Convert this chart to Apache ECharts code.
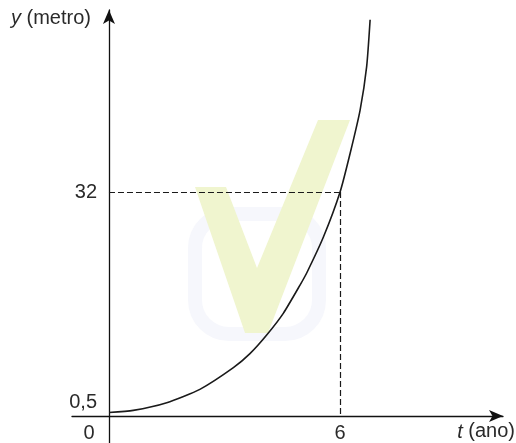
<!DOCTYPE html>
<html>
<head>
<meta charset="utf-8">
<script src="https://cdn.jsdelivr.net/npm/echarts@6/dist/echarts.min.js"></script>
<style>html,body{margin:0;padding:0;background:#fff}#c{width:516px;height:443px}</style>
</head>
<body>
<div id="c"></div>
<script>
// data
var tValues = [0, 0.63, 1.5, 2.36, 3.23, 3.66, 4.1, 4.53, 4.96, 5.14, 5.57, 6, 6.26, 6.52, 6.69, 6.78];
var yValues = [0.5, 0.8, 1.9, 3.8, 6.9, 8.9, 11.6, 14.7, 18.7, 20.5, 25.6, 32, 37.5, 43.7, 49.9, 56.6];
var xTickValues = [0, 6];
var yTickValues = [0.5, 32];
var markT = 6;
var markY = 32;

var curve = tValues.map(function (t, i) { return [t, yValues[i]]; });
var FONT = 'Liberation Sans, Arial, sans-serif';
var TXT = '#2a2a2a';
var FS = 20;

var chart = echarts.init(document.getElementById('c'), null, {renderer: 'canvas'});
chart.setOption({
  animation: false,
  backgroundColor: '#fff',
  grid: {left: 72, right: 13, top: 10, bottom: 0, containLabel: false, outerBoundsMode: 'none'},
  graphic: [
    {type: 'rect', shape: {x: 195, y: 214, width: 124, height: 120, r: 34}, silent: true, z: -10,
     style: {fill: 'none', stroke: '#f6f7fc', lineWidth: 14}},
    {type: 'polygon', silent: true, z: -9,
     shape: {points: [[195,187],[226,187],[257,268],[318,120],[350,120],[268,333],[245,333]]},
     style: {fill: '#f0f5cf'}}
  ],
  xAxis: {
    type: 'value', min: -0.96, max: 10.23,
    name: '{i|t} (ano)', nameLocation: 'end', nameGap: 12,
    nameTextStyle: {fontFamily: FONT, fontSize: FS, color: TXT, align: 'right', verticalAlign: 'top', padding: [6,0,0,0],
      rich: {i: {fontFamily: FONT, fontSize: FS, color: TXT, fontStyle: 'italic'}}},
    axisLine: {onZero: true, symbol: ['none', 'arrow'], symbolSize: [9, 14], lineStyle: {color: '#111', width: 1.3}},
    axisTick: {show: false},
    splitLine: {show: false},
    axisLabel: {
      customValues: xTickValues, margin: -20,
      fontFamily: FONT, fontSize: FS, color: TXT,
      formatter: function (v) { return v === 0 ? '{o|0}' : String(v); },
      rich: {o: {fontFamily: FONT, fontSize: FS, color: TXT, padding: [0, 40, 0, 0]}}
    }
  },
  yAxis: {
    type: 'value', min: -3.86, max: 58,
    name: '{i|y} (metro)', nameLocation: 'end', nameGap: -8,
    nameTextStyle: {fontFamily: FONT, fontSize: FS, color: TXT, align: 'right', verticalAlign: 'middle', padding: [0,18,0,0],
      rich: {i: {fontFamily: FONT, fontSize: FS, color: TXT, fontStyle: 'italic'}}},
    axisLine: {onZero: true, symbol: ['none', 'arrow'], symbolSize: [9, 14], lineStyle: {color: '#111', width: 1.3}},
    axisTick: {show: false},
    splitLine: {show: false},
    axisLabel: {
      customValues: yTickValues, margin: -25,
      fontFamily: FONT, fontSize: FS, color: TXT,
      formatter: function (v) { return v === 0.5 ? '{h|0,5}' : String(v); },
      rich: {h: {fontFamily: FONT, fontSize: FS, color: TXT, padding: [0, 0, 19, 0]}}
    }
  },
  series: [{
    type: 'line', data: curve, smooth: 0.2, showSymbol: false,
    lineStyle: {color: '#1a1a1a', width: 1.6},
    markLine: {
      silent: true, symbol: ['none', 'none'], label: {show: false},
      lineStyle: {color: '#1a1a1a', width: 1.2, type: [6, 3]},
      data: [
        [{coord: [0, markY]}, {coord: [markT, markY]}],
        [{coord: [markT, markY]}, {coord: [markT, 0]}]
      ]
    }
  }]
});
</script>
</body>
</html>
